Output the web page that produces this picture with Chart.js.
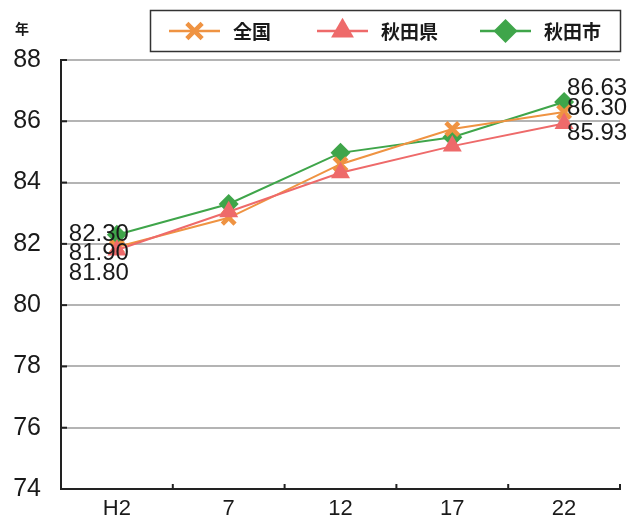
<!DOCTYPE html>
<html lang="ja">
<head>
<meta charset="utf-8">
<title>平均寿命の推移</title>
<script src="https://cdn.jsdelivr.net/npm/chart.js@4.4.0/dist/chart.umd.min.js"></script>
<style>
  html, body { margin: 0; padding: 0; background: #fff; }
  #wrap { position: relative; width: 639px; height: 520px; }
</style>
</head>
<body>
<div id="wrap"><canvas id="lifeChart" width="639" height="520"></canvas></div>
<script>
// survey years (Heisei)
const years = ['H2', '7', '12', '17', '22'];

// average life expectancy
const national = [81.90, 82.85, 84.60, 85.75, 86.30];      // 全国
const prefecture = [81.80, 83.05, 84.32, 85.19, 85.93];    // 秋田県
const city = [82.30, 83.30, 84.97, 85.48, 86.63];          // 秋田市

const yTicks = [74, 76, 78, 80, 82, 84, 86, 88];

const ORANGE = '#ef9342';
const RED = '#ee6a6a';
const GREEN = '#3fa54a';

const numFont = '"Liberation Sans", Arial, sans-serif';
const jpFont = '"Noto Sans CJK JP", sans-serif';

// value labels next to first/last point, nudged so they don't collide
const labelNudge = {
    start: [6, 23, 0],
    end: [-4, 10, -14]
};

// small black tick stubs on the axes
const axisStubs = {
    id: 'axisStubs',
    afterDraw(chart) {
        const { ctx, chartArea, scales: { x, y } } = chart;
        ctx.save();
        ctx.strokeStyle = '#222';
        ctx.lineWidth = 2;
        yTicks.forEach(v => {
            const py = y.getPixelForValue(v);
            ctx.beginPath();
            ctx.moveTo(chartArea.left, py);
            ctx.lineTo(chartArea.left + 6, py);
            ctx.stroke();
        });
        const step = x.getPixelForValue(1) - x.getPixelForValue(0);
        for (let i = 0; i <= years.length; i++) {
            const px = x.getPixelForValue(0) - step / 2 + i * step;
            ctx.beginPath();
            ctx.moveTo(px, chartArea.bottom);
            ctx.lineTo(px, chartArea.bottom - 5);
            ctx.stroke();
        }
        ctx.restore();
    }
};

// numbers at the first and last year
const endLabels = {
    id: 'endLabels',
    afterDatasetsDraw(chart) {
        const { ctx } = chart;
        ctx.save();
        ctx.font = '24px ' + numFont;
        ctx.fillStyle = '#1a1a1a';
        ctx.textBaseline = 'middle';
        chart.data.datasets.forEach((ds, i) => {
            const pts = chart.getDatasetMeta(i).data;
            const first = pts[0];
            const last = pts[pts.length - 1];
            ctx.textAlign = 'center';
            ctx.fillText(ds.data[0].toFixed(2), first.x - 18, first.y + labelNudge.start[i]);
            ctx.textAlign = 'left';
            ctx.fillText(ds.data[ds.data.length - 1].toFixed(2), last.x + 3, last.y + labelNudge.end[i]);
        });
        ctx.restore();
    }
};

// boxed legend on top with line + marker samples, plus the unit
const boxLegend = {
    id: 'boxLegend',
    afterDraw(chart) {
        const c = chart.ctx;
        c.save();
        c.strokeStyle = '#333';
        c.lineWidth = 1.5;
        c.strokeRect(150.5, 10.5, 470, 41);
        const itemX = [169, 317, 480];
        const cy = 31;
        chart.data.datasets.forEach((ds, i) => {
            const x0 = itemX[i];
            c.strokeStyle = ds.borderColor;
            c.fillStyle = ds.borderColor;
            c.lineWidth = 2.5;
            c.beginPath();
            c.moveTo(x0, cy);
            c.lineTo(x0 + 51, cy);
            c.stroke();
            c.lineWidth = ds.pointBorderWidth || 0.01;
            Chart.helpers.drawPoint(c, {
                pointStyle: ds.pointStyle,
                radius: ds.pointRadius * 1.2,
                rotation: 0,
                borderWidth: ds.pointBorderWidth
            }, x0 + 25.5, cy);
            c.fillStyle = '#1a1a1a';
            c.font = 'bold 19px ' + jpFont;
            c.textAlign = 'left';
            c.textBaseline = 'middle';
            c.fillText(ds.label, x0 + 64, cy + 1);
        });
        c.font = 'bold 14px ' + jpFont;
        c.fillStyle = '#1a1a1a';
        c.textAlign = 'center';
        c.fillText('年', 22, 29);
        c.restore();
    }
};

const ctx = document.getElementById('lifeChart').getContext('2d');

const lifeChart = new Chart(ctx, {
    type: 'line',
    data: {
        labels: years,
        datasets: [{
            label: '全国',
            data: national,
            borderColor: ORANGE,
            backgroundColor: ORANGE,
            borderWidth: 2,
            pointStyle: 'crossRot',
            pointRadius: 9,
            pointBorderWidth: 4.5,
            pointBorderColor: ORANGE,
            order: 1
        }, {
            label: '秋田県',
            data: prefecture,
            borderColor: RED,
            backgroundColor: RED,
            borderWidth: 2,
            pointStyle: 'triangle',
            pointRadius: 11,
            pointBorderWidth: 0,
            pointBackgroundColor: RED,
            order: 0
        }, {
            label: '秋田市',
            data: city,
            borderColor: GREEN,
            backgroundColor: GREEN,
            borderWidth: 2,
            pointStyle: 'rectRot',
            pointRadius: 10,
            pointBorderWidth: 0,
            pointBackgroundColor: GREEN,
            order: 2
        }]
    },
    options: {
        responsive: false,
        animation: false,
        layout: { padding: { top: 60, right: 19, left: 0, bottom: 0 } },
        plugins: {
            legend: { display: false },
            tooltip: { enabled: false }
        },
        scales: {
            x: {
                offset: true,
                grid: { display: false, drawTicks: false },
                border: { display: true, color: '#222', width: 2 },
                ticks: {
                    color: '#1a1a1a',
                    padding: 7,
                    font: { family: numFont, size: 22 }
                },
                afterFit(scale) { scale.height = 31; }
            },
            y: {
                min: 74,
                max: 88,
                grid: { color: '#b4b4b4', lineWidth: 2, drawTicks: false },
                border: { display: true, color: '#222', width: 2 },
                ticks: {
                    stepSize: 2,
                    color: '#1a1a1a',
                    padding: 20,
                    font: { family: numFont, size: 25 }
                },
                afterFit(scale) {
                    // fixed axis width; label padding must not push the plot area
                    scale.width = 61;
                    scale.paddingTop = 0;
                    scale.paddingBottom = 0;
                }
            }
        }
    },
    plugins: [axisStubs, endLabels, boxLegend]
});
</script>
</body>
</html>
